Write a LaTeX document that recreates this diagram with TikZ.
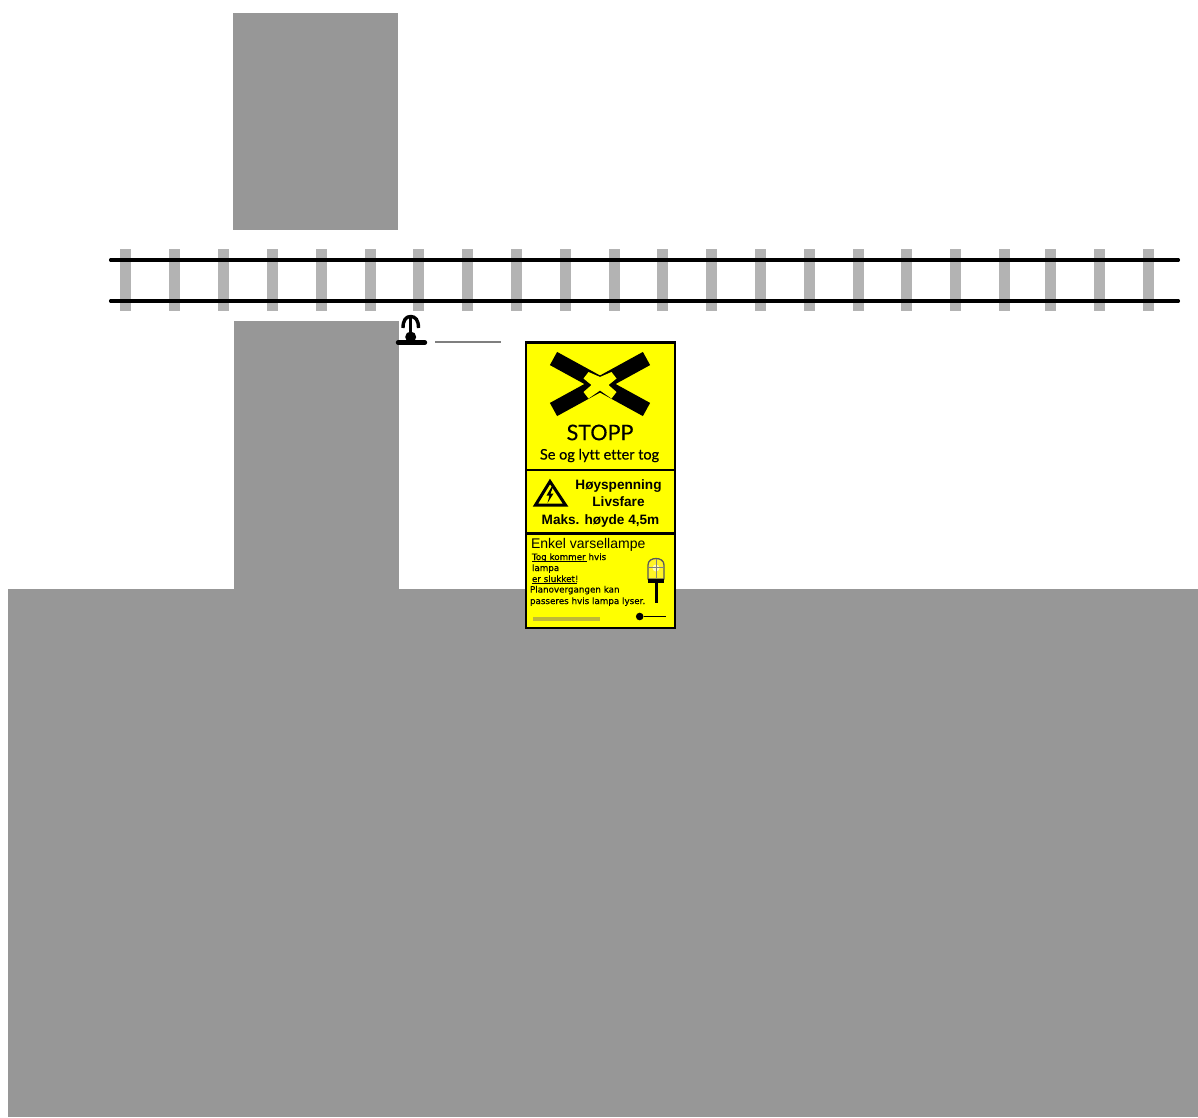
\documentclass[tikz,border=0pt]{standalone}
\usepackage{fontspec}
\setmainfont{Liberation Sans}
\newfontfamily\gillfont[Ligatures=NoCommon,FakeBold=0.25]{Lato}
\newfontfamily\widefont[FakeBold=0.2]{DejaVu Sans}
\definecolor{ground}{HTML}{979797}
\definecolor{sleeper}{HTML}{B3B3B3}
\definecolor{signyellow}{HTML}{FFFF00}
\definecolor{leader}{HTML}{7F7F7F}
\tikzset{
  ground block/.style={fill=ground,draw=none},
  sleeper bar/.style={fill=sleeper,draw=none},
  rail/.style={draw=black,line width=3.05pt,line cap=round},
  sign frame/.style={draw=black,line width=2.8pt,fill=signyellow},
  sign text/.style={inner sep=0pt,outer sep=0pt,text=black},
  bold text/.style={sign text,anchor=base,font=\bfseries\fontsize{13.6}{15}\selectfont},
  small text/.style={sign text,anchor=base west,font=\widefont\fontsize{8.75}{10}\selectfont},
}
\begin{document}
\begin{tikzpicture}[x=1pt,y=-1pt]
\useasboundingbox (0,0) rectangle (1198,1117);
% ground areas
\fill[ground block] (233,13) rectangle (398,230);
\fill[ground block] (234,321) rectangle (399,590);
\fill[ground block] (8,589) rectangle (1198,1117);
% track
\foreach \x in {120,169,218,267,316,365,413,462,511,560,609,657,706,755,804,853,901,950,999,1045,1094,1143}
  \fill[sleeper bar] (\x,249) rectangle +(11,62);
\coordinate (railAwest) at (110.5,260);
\coordinate (railAeast) at (1178.5,260);
\coordinate (railBwest) at (110.5,301);
\coordinate (railBeast) at (1178.5,301);
\draw[rail] (railAwest) -- (railAeast);
\draw[rail] (railBwest) -- (railBeast);
% lamp symbol and leader
\draw[line width=4.4pt,line cap=round] (398,342.5) -- (425,342.5);
\fill (410.7,337) circle (5.5);
\draw[line width=3.4pt] (410.7,317) -- (410.7,337);
\draw[line width=3.4pt] (403,328) .. controls (403,320) and (406,316.5) .. (410.7,316.5) .. controls (415.4,316.5) and (418.5,320) .. (418.5,328);
\coordinate (leaderA) at (435,342);
\coordinate (leaderB) at (501,342);
\draw[leader,line width=1.1pt] (leaderA) -- (leaderB);
% sign
\draw[sign frame] (526,342.5) rectangle (675,628);
\draw[line width=2.8pt] (526,470) -- (675,470);
\draw[line width=2.8pt] (526,533.5) -- (675,533.5);
% crossing symbol
\draw[line width=15pt] (553.5,358.5) -- (646.5,409.5);
\draw[line width=15pt] (646.5,358.5) -- (553.5,409.5);
\fill[signyellow] (583.5,378.5) -- (588.5,372) -- (600,377) -- (611.5,372) -- (616.5,378.5) -- (608.5,385) -- (616.5,392) -- (611.5,398.5) -- (600,390.5) -- (588.5,398.5) -- (583.5,392) -- (591.5,385) -- cycle;
\node[sign text,font=\gillfont\fontsize{21.5}{24}\selectfont] (stopp) at (600,432.5) {STOPP};
\node[sign text,font=\gillfont\fontsize{14.5}{16}\selectfont] (look) at (599.5,455.5) {Se og lytt etter tog};
% warning panel
\draw[line width=3pt,line join=miter] (550,481.5) -- (535.5,505) -- (565.5,505) -- cycle;
\fill (551.5,487) -- (546.5,495.5) -- (549.5,495.5) -- (547.5,503) -- (553.5,493.5) -- (550.5,493.5) -- (553,487) -- cycle;
\node[bold text] (hs) at (618.5,489) {Høyspenning};
\node[bold text] (lf) at (618.5,506) {Livsfare};
\node[bold text] (maks) at (600.5,524.5) {Maks. høyde 4,5m};
% lamp panel
\node[sign text,anchor=base west,font=\fontsize{14}{16}\selectfont] (enkel) at (531,548) {Enkel varsellampe};
\node[small text] (t1) at (532,560) {Tog kommer hvis};
\node[small text] (t2) at (532,571) {lampa};
\node[small text] (t3) at (532,582) {er slukket!};
\node[small text] (t4) at (530,592.5) {Planovergangen kan};
\node[small text] (t5) at (530,604) {passeres hvis lampa lyser.};
\draw[line width=0.9pt] (532,561.5) -- (587,561.5);
\draw[line width=0.9pt] (532,583.5) -- (577,583.5);
% lamp picture
\draw[draw=black!65,fill=yellow!85!white,line width=1.3pt] (648,579) -- (648,565) .. controls (648,560.5) and (652,558.5) .. (656,558.5) .. controls (660,558.5) and (664,560.5) .. (664,565) -- (664,579) -- cycle;
\fill[white!70!yellow] (656,568) circle (3.5);
\draw[draw=black!50,line width=.7pt] (648,567.5) -- (664,567.5);
\draw[draw=black!50,line width=.7pt] (656,559) -- (656,578);
\fill (648,578.5) rectangle (664,582.5);
\fill (654.7,582) rectangle (658.2,603);
% maker strip and logo
\fill[yellow!72!black] (533,616.5) rectangle (600,620.5);
\fill (639.7,616.5) circle (3.8);
\draw[line width=1.8pt] (644,616.5) -- (666,616.5);
\end{tikzpicture}
\end{document}
